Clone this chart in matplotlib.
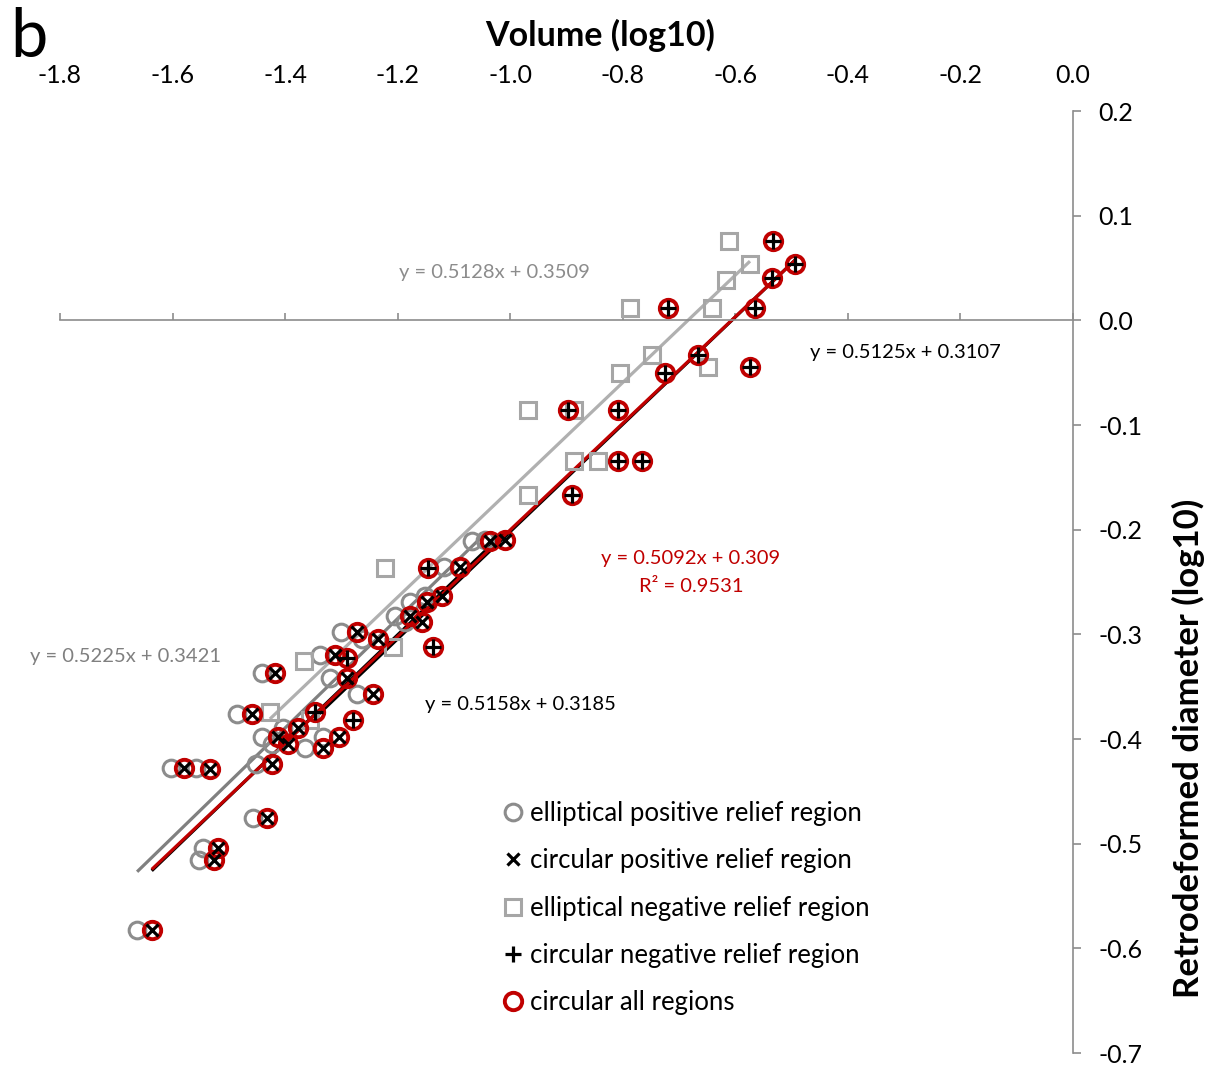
import matplotlib.pyplot as plt
import numpy as np

plt.rcParams['font.family'] = ['Lato', 'DejaVu Sans']

# elliptical positive relief region (log10 volume, log10 diameter)
ell_pos_x = [-1.663, -1.553, -1.546, -1.457, -1.603, -1.558, -1.452, -1.365, -1.423,
             -1.441, -1.333, -1.404, -1.486, -1.272, -1.320, -1.441, -1.338, -1.301,
             -1.263, -1.205, -1.187, -1.178, -1.151, -1.118, -1.068, -1.045]
ell_pos_y = [-0.582, -0.516, -0.504, -0.475, -0.428, -0.428, -0.424, -0.409, -0.405,
             -0.398, -0.398, -0.389, -0.376, -0.357, -0.342, -0.337, -0.320, -0.298,
             -0.304, -0.282, -0.288, -0.269, -0.263, -0.236, -0.211, -0.210]

# circular positive relief region
circ_pos_x = [-1.637, -1.526, -1.519, -1.432, -1.580, -1.533, -1.423, -1.333, -1.395,
              -1.413, -1.304, -1.377, -1.459, -1.244, -1.290, -1.418, -1.311, -1.272,
              -1.235, -1.178, -1.157, -1.148, -1.121, -1.089, -1.036, -1.009]
circ_pos_y = [-0.582, -0.516, -0.504, -0.475, -0.428, -0.429, -0.424, -0.409, -0.405,
              -0.398, -0.398, -0.389, -0.376, -0.357, -0.342, -0.337, -0.320, -0.298,
              -0.304, -0.282, -0.288, -0.269, -0.263, -0.236, -0.211, -0.210]

# elliptical negative relief region
ell_neg_x = [-0.611, -0.574, -0.617, -0.642, -0.787, -0.748, -0.805, -0.649, -0.968,
             -0.887, -0.887, -0.844, -0.968, -1.223, -1.208, -1.366, -1.427, -1.356]
ell_neg_y = [0.076, 0.054, 0.039, 0.012, 0.012, -0.033, -0.050, -0.045, -0.086,
             -0.086, -0.134, -0.134, -0.167, -0.237, -0.312, -0.325, -0.374, -0.382]

# circular negative relief region
circ_neg_x = [-0.533, -0.494, -0.535, -0.565, -0.720, -0.666, -0.725, -0.574, -0.897,
              -0.809, -0.809, -0.766, -0.890, -1.146, -1.137, -1.290, -1.347, -1.279]
circ_neg_y = [0.076, 0.054, 0.040, 0.012, 0.012, -0.033, -0.050, -0.045, -0.086,
              -0.086, -0.134, -0.134, -0.167, -0.237, -0.312, -0.323, -0.374, -0.382]

# circular all regions
circ_all_x = circ_pos_x + circ_neg_x
circ_all_y = circ_pos_y + circ_neg_y

# trendline coefficients (slope, intercept) as printed on the chart
fit_ell_pos = (0.5225, 0.3421)
fit_circ_pos = (0.5158, 0.3185)
fit_ell_neg = (0.5128, 0.3509)
fit_circ_neg = (0.5125, 0.3107)
fit_circ_all = (0.5092, 0.309)

x_ticks = [-1.8, -1.6, -1.4, -1.2, -1.0, -0.8, -0.6, -0.4, -0.2, 0.0]
y_ticks = [-0.7, -0.6, -0.5, -0.4, -0.3, -0.2, -0.1, 0.0, 0.1, 0.2]

RED = "#c00000"
GRAY_C = "#8c8c8c"
GRAY_S = "#a6a6a6"

fig = plt.figure(figsize=(12.17, 10.68), dpi=100)
ax = fig.add_axes([0.0493, 0.01404, 0.8324, 0.8820])


def trend(xs, coef, color, lw=2.3, z=2):
    xr = np.array([min(xs), max(xs)])
    ax.plot(xr, coef[0] * xr + coef[1], color=color, lw=lw, zorder=z, solid_capstyle="butt")


trend(ell_neg_x, fit_ell_neg, "#b0b0b0")
trend(ell_pos_x, fit_ell_pos, "#808080")
trend(circ_pos_x, fit_circ_pos, "black")
trend(circ_neg_x, fit_circ_neg, "black")
trend(circ_all_x, fit_circ_all, RED, z=2.5)

h1, = ax.plot(ell_pos_x, ell_pos_y, "o", ls="none", ms=12, mfc="none", mec=GRAY_C, mew=2.2, zorder=3,
              label="elliptical positive relief region")
h3, = ax.plot(ell_neg_x, ell_neg_y, "s", ls="none", ms=12, mfc="none", mec=GRAY_S, mew=2.2, zorder=3,
              label="elliptical negative relief region")
h5, = ax.plot(circ_all_x, circ_all_y, "o", ls="none", ms=12.5, mfc="none", mec=RED, mew=2.8, zorder=4,
              label="circular all regions")
h2, = ax.plot(circ_pos_x, circ_pos_y, "x", ls="none", ms=9, mec="black", mew=2.3, zorder=5,
              label="circular positive relief region")
h4, = ax.plot(circ_neg_x, circ_neg_y, "+", ls="none", ms=11, mec="black", mew=2.3, zorder=5,
              label="circular negative relief region")

ax.set_xlim(-1.8, 0.0)
ax.set_ylim(-0.7, 0.2)
ax.set_xticks(x_ticks)
ax.set_xticklabels(["%.1f" % v for v in x_ticks])
ax.set_yticks(y_ticks)
ax.set_yticklabels(["%.1f" % v for v in y_ticks])

for s in ["left", "top"]:
    ax.spines[s].set_visible(False)
ax.spines["bottom"].set_position(("data", 0))
ax.spines["bottom"].set_color("#8c8c8c")
ax.spines["right"].set_color("#8c8c8c")
ax.spines["bottom"].set_linewidth(1.2)
ax.spines["right"].set_linewidth(1.2)

ax.yaxis.tick_right()
ax.tick_params(axis="x", bottom=True, top=False, labelbottom=False, labeltop=True,
               direction="in", length=5, width=1.2, color="#8c8c8c", pad=17, labelsize=18)
ax.tick_params(axis="y", right=True, left=False, labelright=True, labelleft=False,
               direction="out", length=6, width=1.2, color="#8c8c8c", pad=12, labelsize=18)

ax.patch.set_alpha(0)


def px2data(px, py):
    # text anchor positions
    return -1.8 + (px - 60) / 562.8, (320 - py) / 1047


txt = dict(fontsize=14.5, ha="center", va="center")
ax.text(*px2data(494, 272), "y = 0.5128x + 0.3509", color="#8c8c8c", **txt)
ax.text(*px2data(905, 352), "y = 0.5125x + 0.3107", color="black", **txt)
ax.text(*px2data(691, 558), "y = 0.5092x + 0.309", color=RED, **txt)
ax.text(*px2data(691, 586), "R² = 0.9531", color=RED, **txt)
ax.text(*px2data(126, 656), "y = 0.5225x + 0.3421", color="#808080", **txt)
ax.text(*px2data(520, 704), "y = 0.5158x + 0.3185", color="black", **txt)

fig.text(600 / 1217, 1 - 35 / 1068, "Volume (log10)", fontsize=24.5, fontweight="bold",
         ha="center", va="center")
fig.text(1188 / 1217, 1 - 748 / 1068, "Retrodeformed diameter (log10)", fontsize=25,
         fontweight="bold", rotation=90, ha="center", va="center")
fig.text(10 / 1217, 1 - 38 / 1068, "b", fontsize=48, ha="left", va="center")

ax.legend(handles=[h1, h2, h3, h4, h5], loc="upper left",
          bbox_to_anchor=(490 / 1217, 1 - 788 / 1068), bbox_transform=fig.transFigure,
          frameon=False, fontsize=18.5, handlelength=0.8, handletextpad=0.25,
          labelspacing=0.87, borderpad=0, markerscale=1.0)

fig.savefig("out.png", dpi=100)
